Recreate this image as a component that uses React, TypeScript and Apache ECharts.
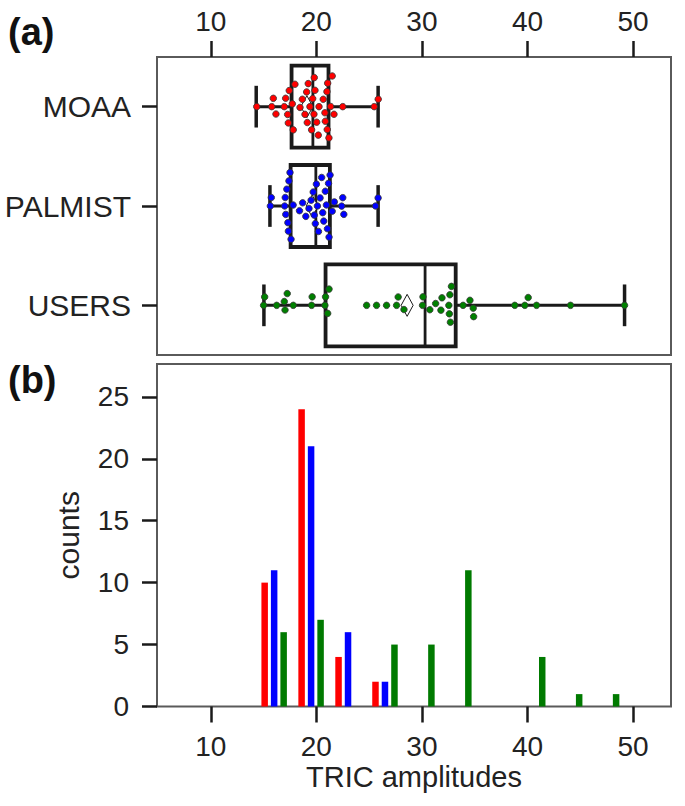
import React, { useEffect, useRef } from 'react';
import * as echarts from 'echarts';

// ---------- data ----------
const groups = ['MOAA', 'PALMIST', 'USERS'];
const groupColors = ['#ff0000', '#0000ff', '#008000'];

const moaaValues = [
  14.35, 15.77, 15.92, 16.17, 16.96, 17.09, 17.28, 17.34, 17.43, 17.72,
  17.81, 17.97, 18.45, 18.67, 18.92, 19.08, 19.14, 19.23, 19.39, 19.55,
  19.65, 19.77, 19.87, 19.8, 20.03, 20.18, 20.25, 20.65, 20.81, 20.85,
  21.03, 21.07, 21.0, 21.19, 21.35, 21.5, 21.67, 22.5, 25.48, 25.86,
];
const palmistValues = [
  15.64, 15.73, 17.0, 17.05, 17.1, 17.2, 17.3, 17.35, 17.4, 17.5,
  17.6, 17.8, 18.4, 18.7, 19.0, 19.3, 19.5, 19.7, 19.8, 19.9,
  20.0, 20.1, 20.2, 20.35, 20.5, 20.6, 20.7, 20.85, 20.95, 21.05,
  21.15, 21.2, 21.3, 21.5, 21.7, 22.4, 22.5, 22.6, 25.6, 25.85,
];
const usersValues = [
  15.0, 15.1, 16.24, 16.96, 17.03, 17.24, 17.81, 19.55, 19.6, 20.81,
  20.87, 21.07, 21.2, 24.76, 25.7, 26.65, 27.6, 27.75, 28.3, 30.06,
  30.1, 30.75, 31.3, 31.8, 31.9, 32.55, 32.6, 32.65, 32.7, 32.8,
  33.9, 34.55, 34.86, 34.9, 38.8, 39.75, 40.07, 40.86, 44.08, 49.2,
];
// [min, Q1, median, Q3, max, mean]
const moaaStats = [14.3, 17.65, 19.67, 21.15, 25.85, 19.1];
const palmistStats = [15.6, 17.56, 19.95, 21.28, 25.85, 19.6];
const usersStats = [15.03, 20.87, 30.3, 33.2, 49.2, 28.6];

const binCenters = [16, 19.5, 23, 26.5, 30, 33.5, 37, 40.5, 44, 47.5];
const moaaCounts = [10, 24, 4, 2, 0, 0, 0, 0, 0, 0];
const palmistCounts = [11, 21, 6, 2, 0, 0, 0, 0, 0, 0];
const usersCounts = [6, 7, 0, 5, 5, 11, 0, 4, 1, 1];

const xTicks = [10, 20, 30, 40, 50];
const countTicks = [0, 5, 10, 15, 20, 25];

// ---------- layout / style ----------
const W = 685;
const H = 806;
const GL = 157;
const GR = 14;
const X_MIN = 4.9;
const X_MAX = 53.6;
const FONT = '"Liberation Sans", Arial, sans-serif';
const INK = '#1a1a1a';
const DOT = 6.5;
const SWARM_GAP = 8.5;

function swarm(values: number[], pxPerUnit: number, d: number): number[] {
  const order = values.map((_, i) => i).sort((a, b) => values[a] - values[b]);
  const placed: { x: number; y: number }[] = [];
  const out: number[] = new Array(values.length).fill(0);
  for (const i of order) {
    const x = values[i] * pxPerUnit;
    const near = placed.filter((p) => Math.abs(p.x - x) < d);
    const cands = [0];
    for (const p of near) {
      const dy = Math.sqrt(d * d - (p.x - x) * (p.x - x));
      cands.push(p.y + dy, p.y - dy);
    }
    cands.sort((a, b) => Math.abs(a) - Math.abs(b) || b - a);
    let y = 0;
    for (const c of cands) {
      if (near.every((p) => (p.x - x) ** 2 + (p.y - c) ** 2 >= d * d - 1e-6)) {
        y = c;
        break;
      }
    }
    placed.push({ x, y });
    out[i] = y;
  }
  return out;
}

export default function App() {
  const ref = useRef<HTMLDivElement>(null);

  useEffect(() => {
    if (!ref.current) return;
    const chart = echarts.init(ref.current, undefined, { renderer: 'svg' });

    const pxPerUnit = (W - GL - GR) / (X_MAX - X_MIN);
    const valueSets = [moaaValues, palmistValues, usersValues];
    const statSets = [moaaStats, palmistStats, usersStats];
    const countSets = [moaaCounts, palmistCounts, usersCounts];

    const tickStyle = { color: INK, width: 2.5 };
    const labelStyle = { fontSize: 28, color: '#222', fontFamily: FONT };

    const scatterSeries = valueSets.map((vals, g) => {
      const offs = swarm(vals, pxPerUnit, SWARM_GAP);
      return {
        type: 'scatter',
        xAxisIndex: 0,
        yAxisIndex: 0,
        z: 5,
        symbol: 'circle',
        symbolSize: DOT,
        itemStyle: { color: groupColors[g], borderColor: '#333', borderWidth: 0.8, opacity: 1 },
        data: vals.map((v, i) => ({ value: [v, g], symbolOffset: [0, -offs[i]] })),
      };
    });

    const boxSeries = {
      type: 'custom',
      xAxisIndex: 0,
      yAxisIndex: 0,
      z: 3,
      encode: { x: [1, 2, 3, 4, 5, 6], y: 0 },
      data: statSets.map((s, g) => [g, ...s]),
      renderItem: (params: any, api: any) => {
        const g = api.value(0);
        const band = api.size([0, 1])[1];
        const hb = band * 0.413;
        const hc = band * 0.21;
        const p = (v: number) => api.coord([v, g]);
        const [xMin, yc] = p(api.value(1));
        const xQ1 = p(api.value(2))[0];
        const xMed = p(api.value(3))[0];
        const xQ3 = p(api.value(4))[0];
        const xMax = p(api.value(5))[0];
        const xMean = p(api.value(6))[0];
        const ls = { stroke: INK, lineWidth: 3 };
        return {
          type: 'group',
          children: [
            { type: 'line', shape: { x1: xMin, y1: yc, x2: xQ1, y2: yc }, style: ls },
            { type: 'line', shape: { x1: xQ3, y1: yc, x2: xMax, y2: yc }, style: ls },
            { type: 'line', shape: { x1: xMin, y1: yc - hc, x2: xMin, y2: yc + hc }, style: { stroke: INK, lineWidth: 3.5 } },
            { type: 'line', shape: { x1: xMax, y1: yc - hc, x2: xMax, y2: yc + hc }, style: { stroke: INK, lineWidth: 3.5 } },
            {
              type: 'rect',
              shape: { x: xQ1, y: yc - hb, width: xQ3 - xQ1, height: 2 * hb },
              style: { fill: 'none', stroke: INK, lineWidth: 3.8 },
            },
            { type: 'line', shape: { x1: xMed, y1: yc - hb, x2: xMed, y2: yc + hb }, style: { stroke: INK, lineWidth: 2.8 } },
            {
              type: 'polygon',
              shape: {
                points: [
                  [xMean - 6, yc],
                  [xMean, yc - 11],
                  [xMean + 6, yc],
                  [xMean, yc + 11],
                ],
              },
              style: { fill: '#fff', stroke: INK, lineWidth: 1 },
            },
          ],
        };
      },
    };

    const barSeries = countSets.map((counts, g) => ({
      type: 'bar',
      xAxisIndex: 1,
      yAxisIndex: 1,
      barWidth: 6.5,
      barGap: '46%',
      itemStyle: { color: groupColors[g] === '#008000' ? '#007a00' : groupColors[g] },
      data: binCenters.map((c, i) => [c, counts[i]]).filter((d) => d[1] > 0),
    }));

    chart.setOption({
      animation: false,
      backgroundColor: '#fff',
      grid: [
        { left: GL, right: GR, top: 57, height: 298, show: true, borderColor: '#5a5a5a', borderWidth: 2 },
        { left: GL, right: GR, top: 364, height: 342.5, show: true, borderColor: '#5a5a5a', borderWidth: 2 },
      ],
      xAxis: [
        {
          gridIndex: 0,
          type: 'value',
          position: 'top',
          min: X_MIN,
          max: X_MAX,
          axisLine: { show: false },
          splitLine: { show: false },
          axisTick: { show: true, length: 16, customValues: xTicks, lineStyle: tickStyle },
          axisLabel: { ...labelStyle, customValues: xTicks, margin: 22 },
        },
        {
          gridIndex: 1,
          type: 'value',
          position: 'bottom',
          min: X_MIN,
          max: X_MAX,
          axisLine: { show: false },
          splitLine: { show: false },
          axisTick: { show: true, length: 16, customValues: xTicks, lineStyle: tickStyle },
          axisLabel: { ...labelStyle, customValues: xTicks, margin: 26 },
          name: 'TRIC amplitudes',
          nameLocation: 'middle',
          nameGap: 56,
          nameTextStyle: { fontSize: 29, color: '#222', fontFamily: FONT },
        },
      ],
      yAxis: [
        {
          gridIndex: 0,
          type: 'category',
          data: groups,
          inverse: true,
          axisLine: { show: false },
          splitLine: { show: false },
          axisTick: { show: true, alignWithLabel: true, length: 15, lineStyle: tickStyle },
          axisLabel: { ...labelStyle, fontSize: 30, margin: 26 },
        },
        {
          gridIndex: 1,
          type: 'value',
          min: 0,
          max: 27.65,
          axisLine: { show: false },
          splitLine: { show: false },
          axisTick: { show: true, length: 15, customValues: countTicks, lineStyle: tickStyle },
          axisLabel: { ...labelStyle, customValues: countTicks, margin: 28 },
          name: 'counts',
          nameLocation: 'middle',
          nameGap: 74,
          nameRotate: 90,
          nameTextStyle: { fontSize: 30, color: '#222', fontFamily: FONT },
        },
      ],
      graphic: [
        { type: 'text', left: 8, top: 13, style: { text: '(a)', font: `bold 38px ${FONT}`, fill: '#111' } },
        { type: 'text', left: 8, top: 361, style: { text: '(b)', font: `bold 38px ${FONT}`, fill: '#111' } },
      ],
      series: [boxSeries, ...scatterSeries, ...barSeries],
    });

    return () => chart.dispose();
  }, []);

  return (
    <div
      ref={ref}
      style={{ position: 'fixed', left: 0, top: 0, width: W, height: H, background: '#fff' }}
    />
  );
}
